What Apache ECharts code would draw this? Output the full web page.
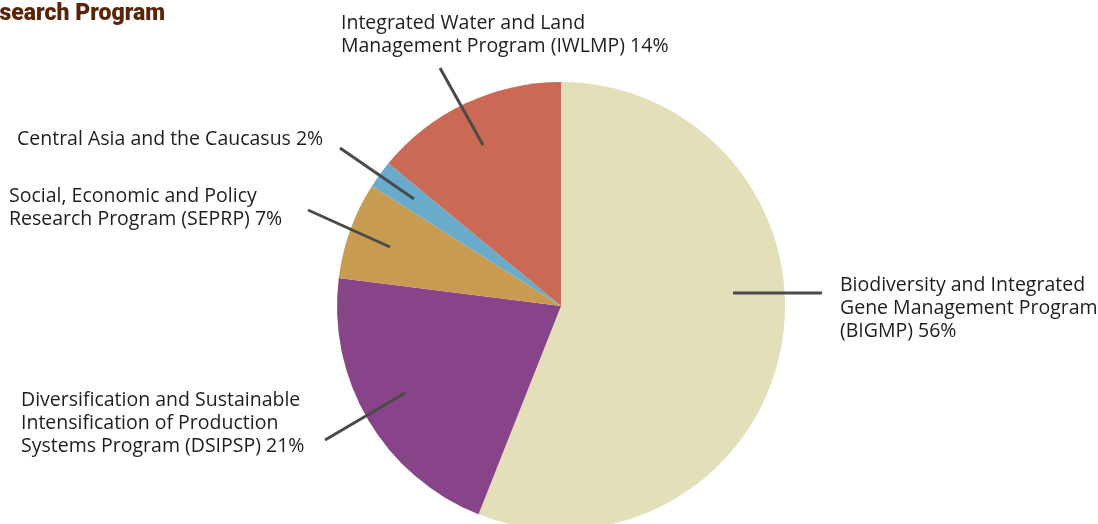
<!DOCTYPE html>
<html><head><meta charset="utf-8">
<script src="https://cdn.jsdelivr.net/npm/echarts@6/dist/echarts.min.js"></script>
<style>html,body{margin:0;padding:0;background:#fff}#c{width:1098px;height:524px}</style>
</head><body><div id="c"></div>
<script>
const categories = [
  'Biodiversity and Integrated\nGene Management Program\n(BIGMP)',
  'Diversification and Sustainable\nIntensification of Production\nSystems Program (DSIPSP)',
  'Social, Economic and Policy\nResearch Program (SEPRP)',
  'Central Asia and the Caucasus',
  'Integrated Water and Land\nManagement Program (IWLMP)'
];
const values = [56, 21, 7, 2, 14];
const colors = ['#E3DFB9', '#874488', '#C89C50', '#68ABCB', '#CB6A54'];
// label placement (annotation layout): text top-left and leader line points
const labelPos = [
  {x: 840, y: 274, line: [[733, 293], [822, 293]]},
  {x: 21, y: 389, line: [[405, 393], [325, 440]]},
  {x: 9, y: 185, line: [[390, 247], [308, 210]]},
  {x: 17, y: 128, line: [[414, 199], [340, 148]]},
  {x: 341, y: 12, line: [[483, 145], [440, 68]]}
];
const pieData = categories.map((c, i) => ({name: c, value: values[i], itemStyle: {color: colors[i]}}));
const labelData = categories.map((c, i) => ({name: c, value: values[i]}));
const chart = echarts.init(document.getElementById('c'), null, {renderer: 'canvas'});
chart.setOption({
  animation: false,
  title: {
    text: 'Research Program', left: -33, top: -2,
    textStyle: {color: '#5A2408', fontFamily: 'Roboto', fontWeight: 900, fontSize: 23}
  },
  series: [{
    type: 'pie',
    z: 2,
    center: [561, 306],
    radius: [0, 224],
    startAngle: 90,
    clockwise: true,
    data: pieData,
    label: {show: false},
    labelLine: {show: false},
    emphasis: {disabled: true}
  }, {
    type: 'pie',
    z: 5,
    silent: true,
    center: [561, 306],
    radius: [0, 224],
    startAngle: 90,
    clockwise: true,
    data: labelData,
    itemStyle: {color: 'rgba(0,0,0,0)', borderWidth: 0},
    label: {
      show: true,
      formatter: p => p.name + ' ' + p.value + '%',
      color: '#1e1e1e', fontFamily: 'Open Sans', fontSize: 19.5, lineHeight: 23,
      align: 'left', overflow: 'none', bleedMargin: 0
    },
    labelLine: {show: true, lineStyle: {color: '#4a4a4a', width: 3}},
    labelLayout: function (p) {
      const L = labelPos[p.dataIndex];
      return {x: L.x, y: L.y, align: 'left', verticalAlign: 'top', width: 400, labelLinePoints: L.line};
    },
    emphasis: {disabled: true}
  }]
});
</script></body></html>
